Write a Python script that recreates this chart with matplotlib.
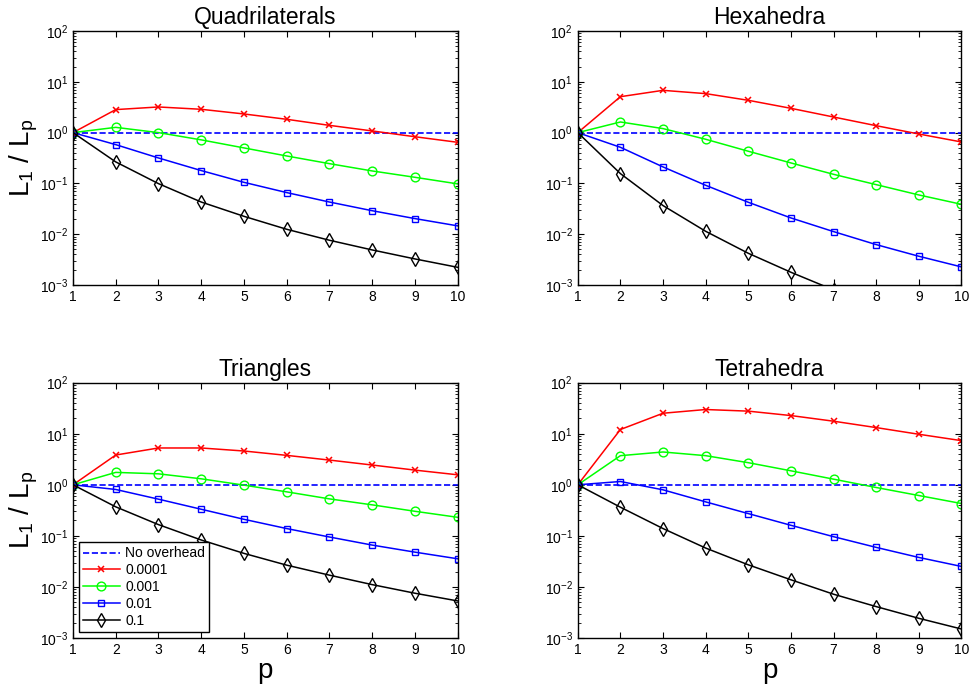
import numpy as np
import matplotlib
matplotlib.use('Agg')
import matplotlib.pyplot as plt
from matplotlib.ticker import LogLocator, NullFormatter

plt.rcParams['font.family'] = ['Liberation Sans', 'DejaVu Sans']
plt.rcParams['mathtext.fontset'] = 'custom'
plt.rcParams['mathtext.rm'] = 'Liberation Sans'
plt.rcParams['mathtext.it'] = 'Liberation Sans'

p = np.arange(1, 11)
no_overhead = np.ones(10)
labels = ['0.0001', '0.001', '0.01', '0.1']

quad = [
    [1, 2.84, 3.2, 2.88, 2.33, 1.83, 1.39, 1.08, 0.83, 0.645],
    [1, 1.27, 1.0, 0.72, 0.50, 0.347, 0.245, 0.176, 0.132, 0.098],
    [1, 0.58, 0.317, 0.179, 0.105, 0.066, 0.043, 0.029, 0.0203, 0.0146],
    [1, 0.265, 0.099, 0.043, 0.0225, 0.0125, 0.0076, 0.0049, 0.00326, 0.00223],
]
hexa = [
    [1, 5.1, 6.8, 5.86, 4.33, 3.01, 2.03, 1.37, 0.94, 0.655],
    [1, 1.62, 1.2, 0.74, 0.43, 0.253, 0.151, 0.0946, 0.0593, 0.0388],
    [1, 0.514, 0.211, 0.0918, 0.0425, 0.0209, 0.01125, 0.00624, 0.00368, 0.00227],
    [1, 0.156, 0.0366, 0.0114, 0.00421, 0.00178, 0.0008, 0.0004, 0.0002, 0.0001],
]
tri = [
    [1, 3.83, 5.26, 5.26, 4.59, 3.77, 3.05, 2.44, 1.94, 1.57],
    [1, 1.75, 1.64, 1.31, 0.985, 0.728, 0.53, 0.405, 0.303, 0.231],
    [1, 0.81, 0.523, 0.332, 0.211, 0.139, 0.095, 0.066, 0.048, 0.0356],
    [1, 0.37, 0.166, 0.083, 0.0454, 0.0267, 0.017, 0.0111, 0.00753, 0.00532],
]
tet = [
    [1, 12.1, 25.2, 29.8, 27.7, 22.7, 17.6, 13.2, 9.77, 7.33],
    [1, 3.72, 4.39, 3.72, 2.71, 1.88, 1.29, 0.886, 0.617, 0.43],
    [1, 1.16, 0.797, 0.463, 0.273, 0.161, 0.0964, 0.0595, 0.0378, 0.0252],
    [1, 0.364, 0.139, 0.0577, 0.0271, 0.0138, 0.0072, 0.00412, 0.00243, 0.0015],
]

panels = [
    ('Quadrilaterals', quad, [0.0748, 0.587, 0.394, 0.368]),
    ('Hexahedra', hexa, [0.592, 0.587, 0.393, 0.368]),
    ('Triangles', tri, [0.0748, 0.0754, 0.394, 0.370]),
    ('Tetrahedra', tet, [0.592, 0.0754, 0.393, 0.370]),
]

styles = [
    dict(color='red', marker='x', ms=4.2, mew=1.1),
    dict(color='lime', marker='o', ms=6.3, mfc='none', mew=1.0),
    dict(color='blue', marker='s', ms=5, mfc='none', mew=1.0),
    dict(color='black', marker='d', ms=7, mfc='none', mew=1.0),
]

fig = plt.figure(figsize=(9.76, 6.9), dpi=100)

for i, (title, data, pos) in enumerate(panels):
    ax = fig.add_axes(pos)
    ax.plot(p, no_overhead, '--', color='blue', lw=1.2, label='No overhead')
    for vals, lab, st in zip(data, labels, styles):
        ax.plot(p, vals, lw=1.1, label=lab, **st)
    ax.set_yscale('log')
    ax.set_xlim(1, 10)
    ax.set_ylim(1e-3, 1e2)
    ax.set_xticks(p)
    ax.yaxis.set_major_locator(LogLocator(base=10, numticks=10))
    ax.yaxis.set_minor_locator(LogLocator(base=10, subs=np.arange(2, 10), numticks=20))
    ax.yaxis.set_minor_formatter(NullFormatter())
    ax.tick_params(which='both', direction='in', top=True, right=True, labelsize=10)
    ax.tick_params(which='major', length=4)
    ax.tick_params(which='minor', length=2)
    ax.set_title(title, fontsize=16.5, pad=5)
    for s in ax.spines.values():
        s.set_linewidth(1.0)
    if i % 2 == 0:
        ax.set_ylabel('L$_1$ / L$_p$', fontsize=20, labelpad=0)
    if i >= 2:
        ax.set_xlabel('p', fontsize=20, labelpad=1)
    if i == 2:
        leg = ax.legend(loc='lower left', fontsize=10, fancybox=False,
                        edgecolor='black', framealpha=1, borderaxespad=0.45,
                        handlelength=2.6, handletextpad=0.4,
                        labelspacing=0.2, borderpad=0.3)
        leg.get_frame().set_linewidth(1.0)

fig.savefig('out.png', dpi=100)
